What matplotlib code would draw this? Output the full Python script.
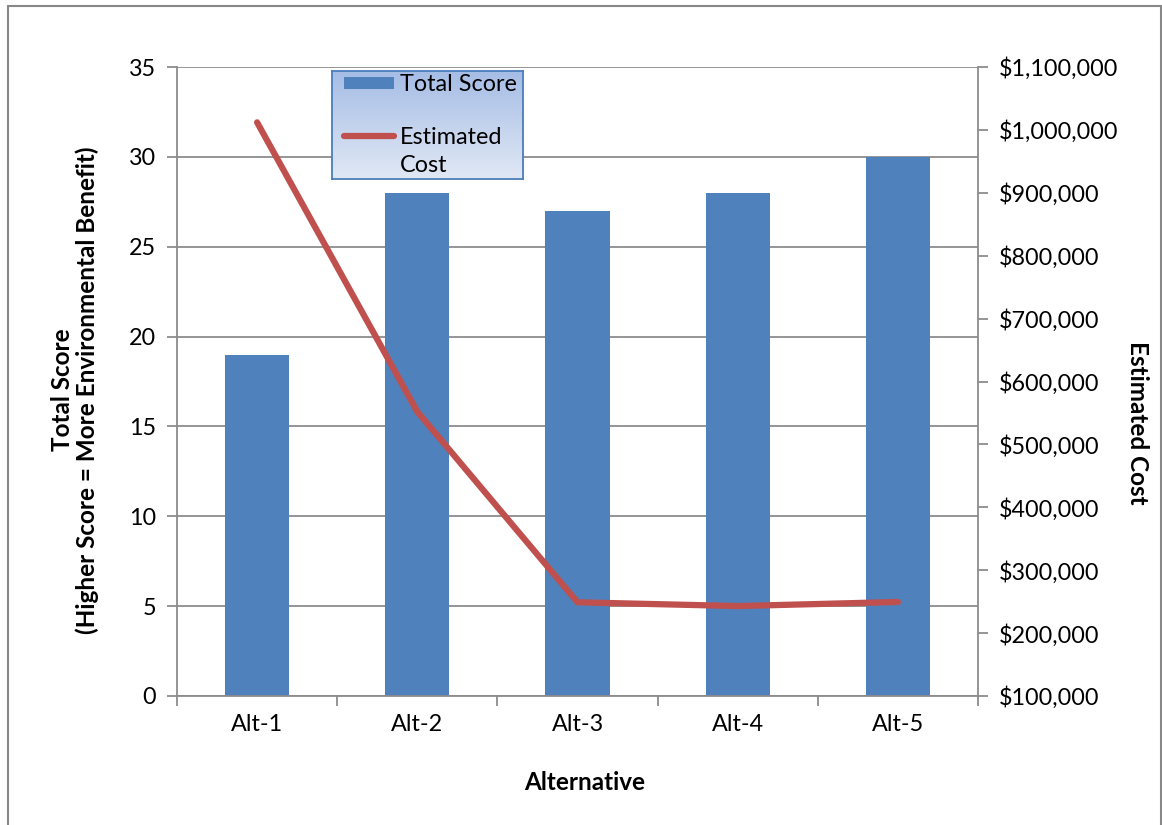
import matplotlib
matplotlib.use("Agg")
import matplotlib.pyplot as plt
import numpy as np
from matplotlib.patches import Rectangle
from matplotlib.ticker import FuncFormatter, MultipleLocator, FixedLocator

plt.rcParams['font.family'] = ['Lato', 'DejaVu Sans']

categories = ["Alt-1", "Alt-2", "Alt-3", "Alt-4", "Alt-5"]
total_score = [19, 28, 27, 28, 30]
estimated_cost = [1012000, 552000, 249000, 243000, 249500]

FS = 16.8
FSL = 17.5
grid_c = "#8c8c8c"
bar_c = "#4f81bd"
line_c = "#c0504d"

fig = plt.figure(figsize=(11.62, 8.25), dpi=100)
W, H = 1162, 825

# outer frame
fig.patches.append(Rectangle((8 / W, -0.01), (1161 - 8) / W, 1 - 6 / H + 0.01,
                             transform=fig.transFigure, fill=False,
                             edgecolor="#888888", linewidth=1.5))

ax = fig.add_axes([177 / W, 1 - 696 / H, (978 - 177) / W, (696 - 67) / H])
x = np.arange(len(categories))
ax.bar(x, total_score, width=0.4, color=bar_c, zorder=2)
ax.set_xlim(-0.5, len(categories) - 0.5)
ax.set_ylim(0, 35)
ax.yaxis.set_major_locator(MultipleLocator(5))
ax.grid(axis='y', color=grid_c, linewidth=1.3, zorder=0)
ax.set_axisbelow(True)
ax.set_xticks(x)
ax.set_xticklabels(categories)
ax.xaxis.set_minor_locator(FixedLocator(np.arange(-0.5, len(categories), 1.0)))
ax.tick_params(axis='x', which='major', length=0, labelsize=FS, pad=13)
ax.tick_params(axis='x', which='minor', length=7, color=grid_c, width=1.3)
ax.tick_params(axis='y', which='major', length=7, color=grid_c, width=1.3,
               labelsize=FS, pad=8)
for s in ['left', 'bottom', 'right', 'top']:
    ax.spines[s].set_color(grid_c)
    ax.spines[s].set_linewidth(1.3)
ax.spines['top'].set_visible(False)

ax2 = ax.twinx()
ax2.plot(x, estimated_cost, color=line_c, linewidth=4.5, solid_capstyle='round',
         zorder=3)
ax2.set_ylim(100000, 1100000)
ax2.yaxis.set_major_locator(MultipleLocator(100000))
ax2.yaxis.set_major_formatter(FuncFormatter(lambda v, p: "${:,.0f}".format(v)))
ax2.tick_params(axis='y', length=7, color=grid_c, width=1.3, labelsize=FS, pad=8)
for s in ['left', 'bottom', 'right', 'top']:
    ax2.spines[s].set_visible(False)

fig.text(75 / W, 1 - 390 / H,
         "Total Score\n(Higher Score = More Environmental Benefit)",
         rotation=90, ha='center', va='center', fontsize=FSL, fontweight='bold',
         linespacing=1.1)
fig.text(1138 / W, 1 - 423 / H, "Estimated Cost", rotation=-90, ha='center',
         va='center', fontsize=FSL, fontweight='bold')
fig.text(585 / W, 1 - 782 / H, "Alternative", ha='center', va='center',
         fontsize=FSL, fontweight='bold')

# legend box with gradient
lx0, lx1, ly0, ly1 = 332, 523, 71, 179
lax = fig.add_axes([lx0 / W, 1 - ly1 / H, (lx1 - lx0) / W, (ly1 - ly0) / H])
top_rgb = np.array([0.65, 0.74, 0.90])
bot_rgb = np.array([0.88, 0.91, 0.96])
t = np.linspace(0, 1, 100)[:, None]
grad = (top_rgb[None, :] * (1 - t) + bot_rgb[None, :] * t)[:, None, :]
grad = np.repeat(grad, 2, axis=1)
lax.imshow(grad, aspect='auto', extent=[0, 1, 0, 1], origin='upper')
lax.set_xlim(0, 1)
lax.set_ylim(0, 1)
lax.set_xticks([])
lax.set_yticks([])
for s in lax.spines.values():
    s.set_color("#4a7ebb")
    s.set_linewidth(1.3)
lax.add_patch(Rectangle((12 / 191, 1 - 18 / 108), 50 / 191, 12 / 108,
                        facecolor=bar_c, edgecolor='none'))
lax.plot([12 / 191, 62 / 191], [1 - 65 / 108] * 2, color=line_c, linewidth=4.5,
         solid_capstyle='round')
lax.text(68 / 191, 1 - 13 / 108, "Total Score", fontsize=FS, va='center',
         ha='left')
lax.text(68 / 191, 1 - 66 / 108, "Estimated", fontsize=FS, va='center',
         ha='left')
lax.text(68 / 191, 1 - 95 / 108, "Cost", fontsize=FS, va='center',
         ha='left')

fig.savefig("out.png", dpi=100)
